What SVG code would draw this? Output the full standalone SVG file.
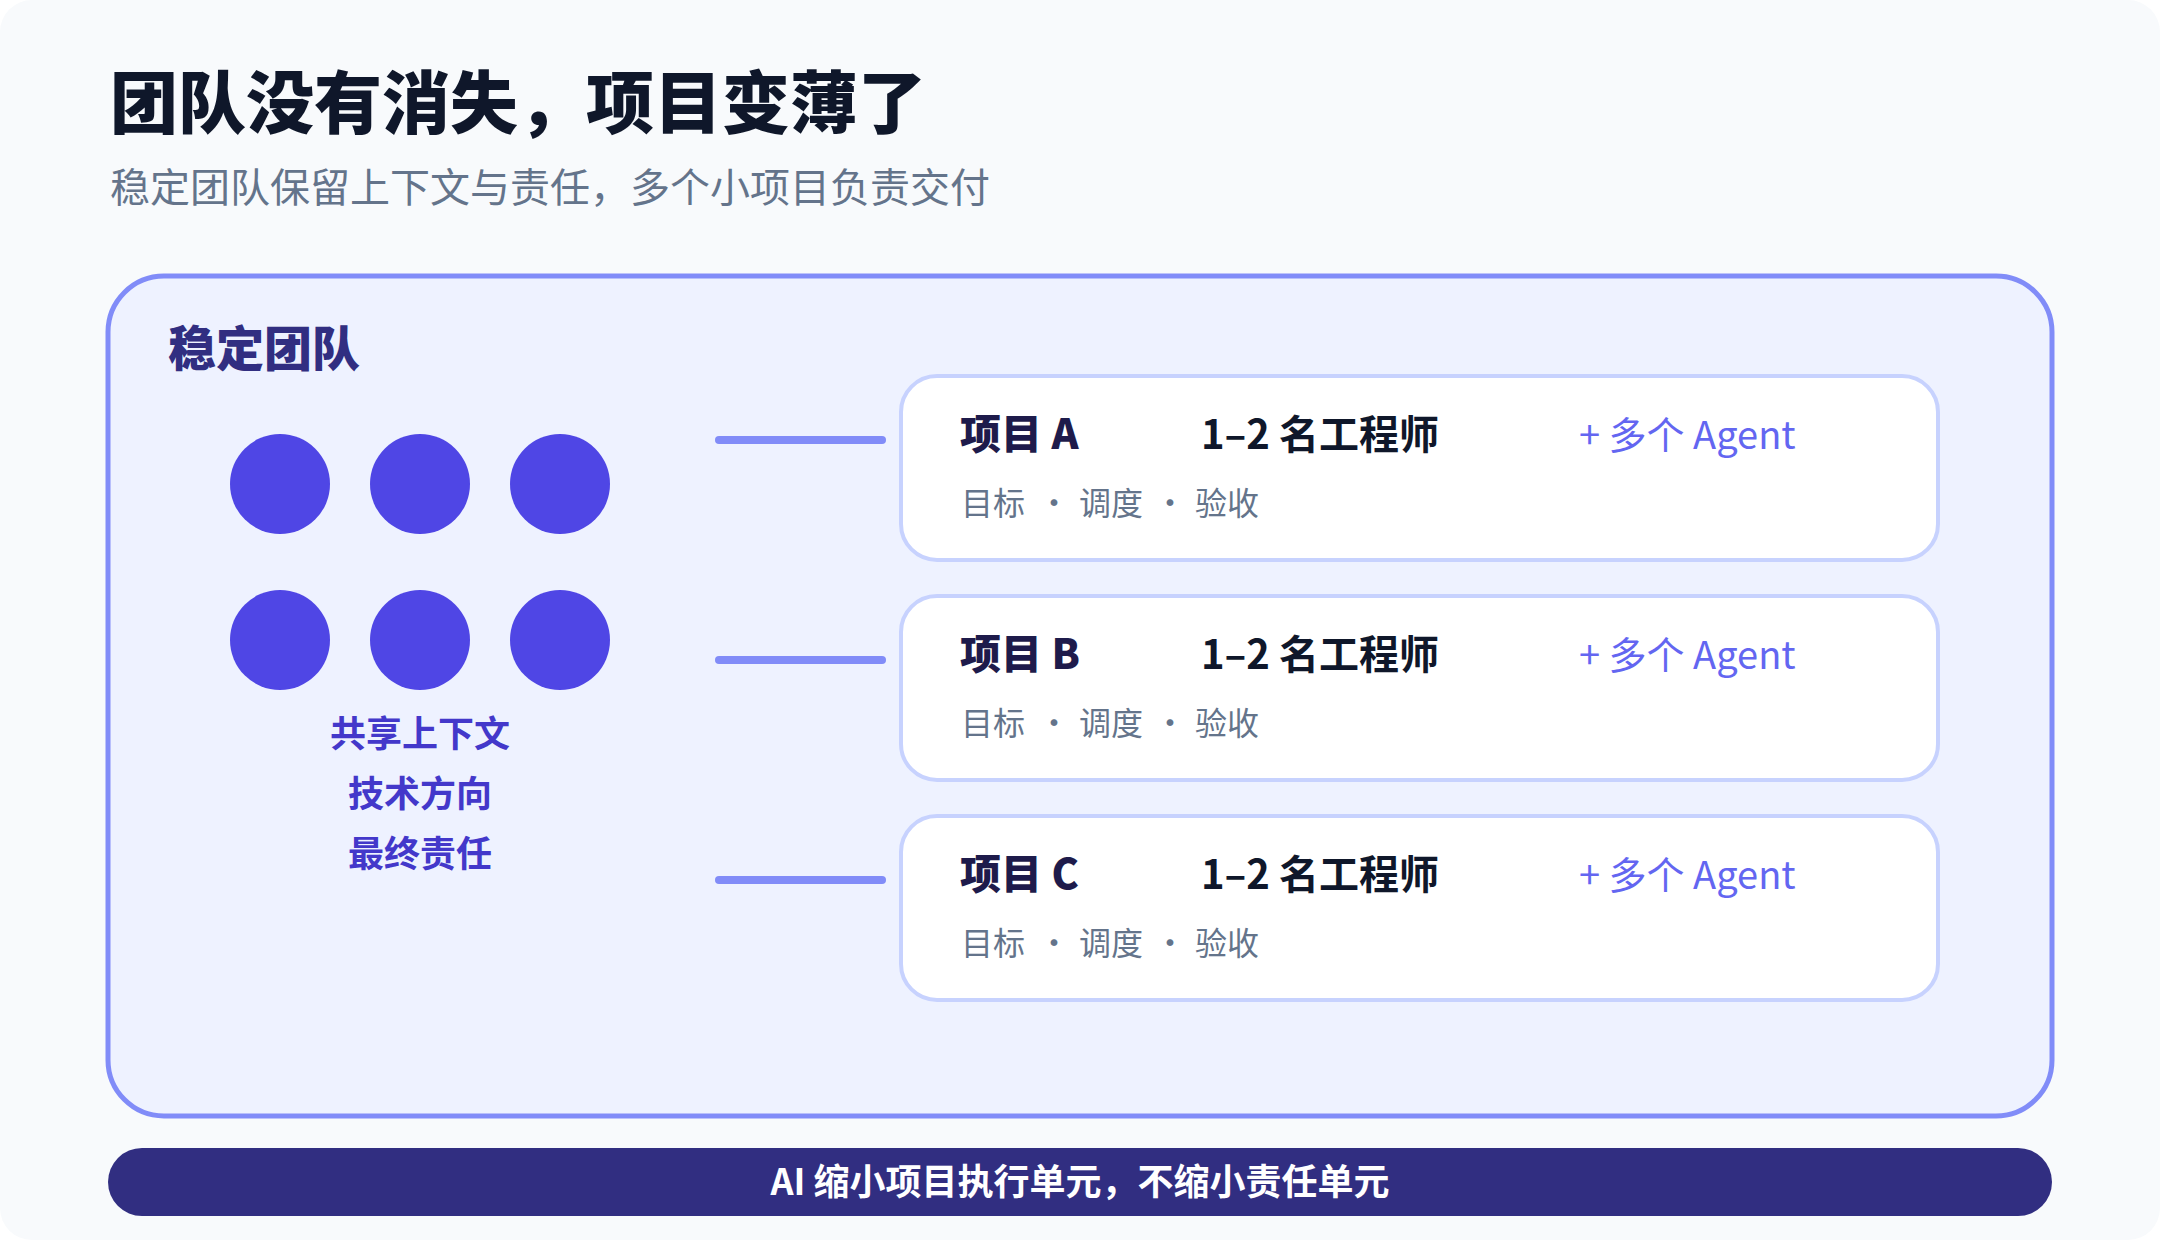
<svg xmlns="http://www.w3.org/2000/svg" width="2160" height="1240" viewBox="0 0 2160 1240">
<style>
text{font-family:"Noto Sans CJK SC","Noto Sans",sans-serif}
.title{font-size:68px;font-weight:900;fill:#0f172a}
.subtitle{font-size:40px;fill:#64748b}
.team-label{font-size:48px;font-weight:900;fill:#312e81}
.dot{fill:#4f46e5}
.shared{font-size:36px;font-weight:700;fill:#4338ca;text-anchor:middle}
.card{fill:#ffffff;stroke:#c7d2fe;stroke-width:4}
.pname{font-size:41px;font-weight:900;fill:#1e1b4b}
.eng{font-size:40px;font-weight:700;fill:#0f172a}
.agent{font-size:38px;fill:#6366f1}
.meta{font-size:32px;fill:#64748b}
.conn{stroke:#818cf8;stroke-width:8;stroke-linecap:round;fill:none}
.footer-text{font-size:36px;font-weight:700;fill:#ffffff;text-anchor:middle}
</style>
<rect x="0" y="0" width="2160" height="1240" fill="#ffffff"/>
<rect x="0" y="0" width="2160" height="1240" rx="32" fill="#f8fafc"/>
<g id="header">
<text class="title" x="110" y="128">团队没有消失，项目变薄了</text>
<text class="subtitle" x="110" y="202">稳定团队保留上下文与责任，多个小项目负责交付</text>
</g>
<g id="team">
<rect x="108" y="276" width="1944" height="840" rx="56" fill="#eef2ff" stroke="#818cf8" stroke-width="5"/>
<text class="team-label" x="168" y="366">稳定团队</text>
<circle class="dot" cx="280" cy="484" r="50"/>
<circle class="dot" cx="420" cy="484" r="50"/>
<circle class="dot" cx="560" cy="484" r="50"/>
<circle class="dot" cx="280" cy="640" r="50"/>
<circle class="dot" cx="420" cy="640" r="50"/>
<circle class="dot" cx="560" cy="640" r="50"/>
<text class="shared" x="420" y="747">共享上下文</text>
<text class="shared" x="420" y="807">技术方向</text>
<text class="shared" x="420" y="867">最终责任</text>
</g>
<g id="connectors">
<line class="conn" x1="719" y1="440" x2="882" y2="440"/>
<line class="conn" x1="719" y1="660" x2="882" y2="660"/>
<line class="conn" x1="719" y1="880" x2="882" y2="880"/>
</g>
<g id="project-a">
<rect class="card" x="901" y="376" width="1037" height="184" rx="36"/>
<text class="pname" x="960" y="449">项目 A</text>
<text class="eng" x="1201" y="449">1–2 名工程师</text>
<text class="agent" x="1579" y="449">+ 多个 Agent</text>
<text class="meta" y="515"><tspan x="961">目标</tspan><tspan x="1038">•</tspan><tspan x="1079">调度</tspan><tspan x="1154">•</tspan><tspan x="1195">验收</tspan></text>
</g>
<g id="project-b">
<rect class="card" x="901" y="596" width="1037" height="184" rx="36"/>
<text class="pname" x="960" y="669">项目 B</text>
<text class="eng" x="1201" y="669">1–2 名工程师</text>
<text class="agent" x="1579" y="669">+ 多个 Agent</text>
<text class="meta" y="735"><tspan x="961">目标</tspan><tspan x="1038">•</tspan><tspan x="1079">调度</tspan><tspan x="1154">•</tspan><tspan x="1195">验收</tspan></text>
</g>
<g id="project-c">
<rect class="card" x="901" y="816" width="1037" height="184" rx="36"/>
<text class="pname" x="960" y="889">项目 C</text>
<text class="eng" x="1201" y="889">1–2 名工程师</text>
<text class="agent" x="1579" y="889">+ 多个 Agent</text>
<text class="meta" y="955"><tspan x="961">目标</tspan><tspan x="1038">•</tspan><tspan x="1079">调度</tspan><tspan x="1154">•</tspan><tspan x="1195">验收</tspan></text>
</g>
<g id="footer">
<rect x="108" y="1148" width="1944" height="68" rx="34" fill="#312e81"/>
<text class="footer-text" x="1080" y="1195">AI 缩小项目执行单元，不缩小责任单元</text>
</g>
</svg>
